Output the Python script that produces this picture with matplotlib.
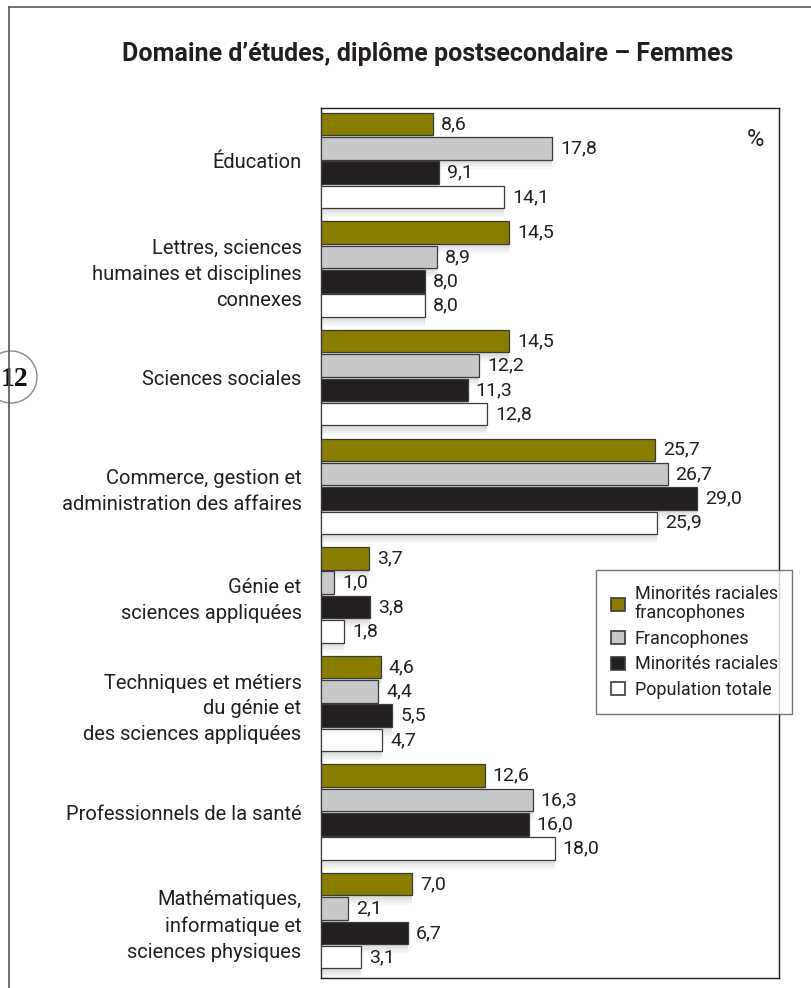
import matplotlib
matplotlib.use("Agg")
import matplotlib.pyplot as plt
from matplotlib.patches import Circle, Patch
from matplotlib.lines import Line2D
import numpy as np

# ---------------- data ----------------
categories = [
    "Éducation",
    "Lettres, sciences\nhumaines et disciplines\nconnexes",
    "Sciences sociales",
    "Commerce, gestion et\nadministration des affaires",
    "Génie et\nsciences appliquées",
    "Techniques et métiers\ndu génie et\ndes sciences appliquées",
    "Professionnels de la santé",
    "Mathématiques,\ninformatique et\nsciences physiques",
]
series_names = ["Minorités raciales\nfrancophones", "Francophones",
                "Minorités raciales", "Population totale"]
min_rac_franco = [8.6, 14.5, 14.5, 25.7, 3.7, 4.6, 12.6, 7.0]
francophones = [17.8, 8.9, 12.2, 26.7, 1.0, 4.4, 16.3, 2.1]
min_rac = [9.1, 8.0, 11.3, 29.0, 3.8, 5.5, 16.0, 6.7]
pop_totale = [14.1, 8.0, 12.8, 25.9, 1.8, 4.7, 18.0, 3.1]

title = "Domaine d\u2019études, diplôme postsecondaire \u2013 Femmes"
colors = ["#8B7D00", "#C8C8CA", "#231F20", "#FFFFFF"]
edge = "#3A3A3A"
txt = "#231F20"

plt.rcParams["font.family"] = ["Roboto", "DejaVu Sans"]

W, H = 812, 988
fig = plt.figure(figsize=(W / 100, H / 100), dpi=100)

# axes geometry (pixels)
ax_l, ax_r, ax_t, ax_b = 321, 779, 108, 978
ax = fig.add_axes([ax_l / W, 1 - ax_b / H, (ax_r - ax_l) / W, (ax_b - ax_t) / H])

series = [min_rac_franco, francophones, min_rac, pop_totale]
n = len(categories)
y = np.arange(n)
pitch = 0.224
bh = 0.207
offsets = (np.arange(4) - 1.5) * pitch

ax.set_xlim(0, 35.28)
ax.set_ylim(7.5276, -0.4834)

# shadows (gradient strips below each bar)
n_strips = 6
strip_h = 0.085 / n_strips
for k, vals in enumerate(series):
    base = y + offsets[k] + bh / 2
    for s in range(n_strips):
        a = 0.38 * (1 - s / n_strips)
        ax.barh(base + strip_h * (s + 0.5), vals, height=strip_h,
                color="#9A9A9A", alpha=a, linewidth=0, zorder=1)

for k, vals in enumerate(series):
    ax.barh(y + offsets[k], vals, height=bh, color=colors[k],
            edgecolor=edge, linewidth=0.9, zorder=3, label=series_names[k])
    for i, v in enumerate(vals):
        ax.annotate(f"{v:.1f}".replace(".", ","), xy=(v, y[i] + offsets[k]),
                    xytext=(8, 0), textcoords="offset pixels",
                    ha="left", va="center", fontsize=14, color=txt, zorder=4)

ax.set_yticks(y)
ax.set_yticklabels(categories, fontsize=14.5, color=txt, linespacing=1.45)
ax.tick_params(axis="y", length=0, pad=14)
ax.set_xticks([])
for sp in ax.spines.values():
    sp.set_color(txt)
    sp.set_linewidth(1.0)

ax.text(755 / W, 1 - 140 / H, "%", transform=fig.transFigure, ha="center",
        va="center", fontsize=17, color=txt)

# legend
handles = [Patch(facecolor=c, edgecolor=edge, linewidth=1.2) for c in colors]
leg = ax.legend(handles, series_names, loc="upper left",
                bbox_to_anchor=(596 / W, 1 - 580 / H, (792 - 596) / W, 0.01),
                bbox_transform=fig.transFigure, mode="expand",
                fontsize=13, frameon=True, fancybox=False,
                edgecolor="#555555", handlelength=0.75, handleheight=0.75,
                handletextpad=0.55, labelspacing=0.42, borderpad=0.85,
                borderaxespad=0)
leg.get_frame().set_linewidth(1.0)
for t in leg.get_texts():
    t.set_linespacing(1.05)
    t.set_color(txt)

# title
fig.text(428 / W, 1 - 54 / H, title, ha="center", va="center",
         fontsize=18, fontweight="bold", color=txt)

# page frame lines
fig.add_artist(Line2D([9 / W, 9 / W], [0, 1 - 7 / H], transform=fig.transFigure,
                      color="#555555", linewidth=1.2))
fig.add_artist(Line2D([9 / W, 1], [1 - 7 / H, 1 - 7 / H], transform=fig.transFigure,
                      color="#555555", linewidth=1.2))

# page number circle
circ_ax = fig.add_axes([0, 0, 1, 1], facecolor="none")
circ_ax.set_xlim(0, W)
circ_ax.set_ylim(H, 0)
circ_ax.axis("off")
circ_ax.add_patch(Circle((11, 377), 26, facecolor="white", edgecolor="#888888",
                         linewidth=1.0, zorder=5))
circ_ax.text(15, 379, "12", ha="center", va="center", fontsize=20,
             fontweight="bold", family="Liberation Serif", color="#111111", zorder=6)

fig.savefig("out.png", dpi=100, facecolor="white")
